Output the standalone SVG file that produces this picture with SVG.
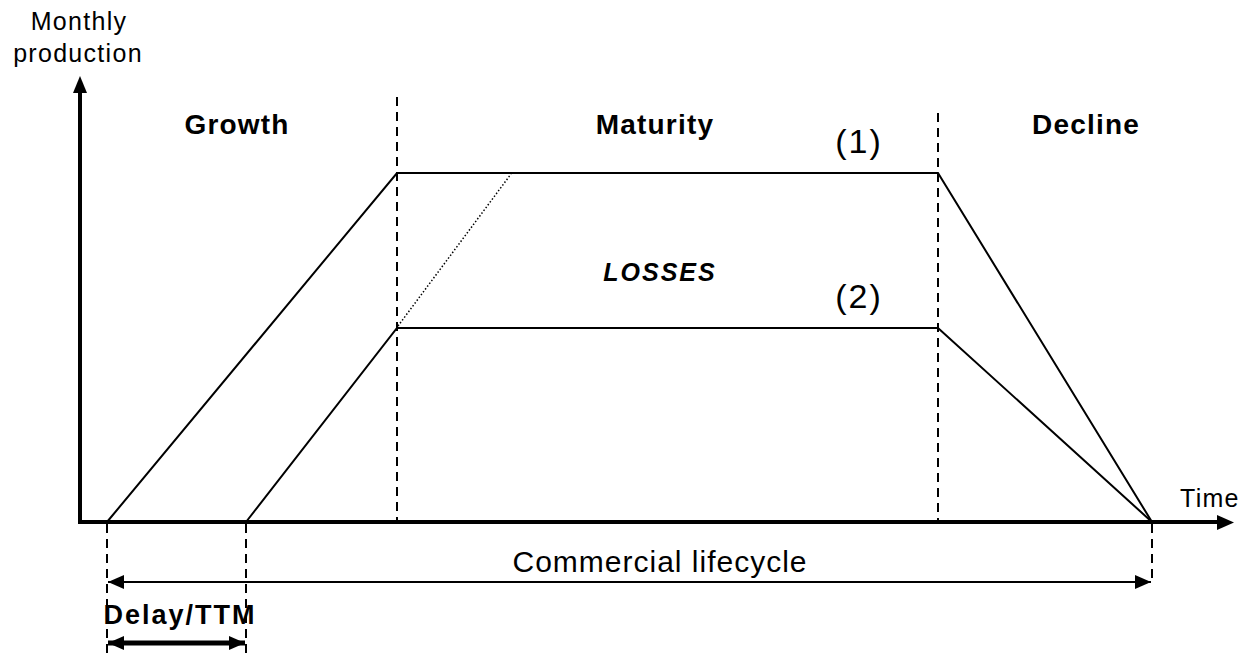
<svg xmlns="http://www.w3.org/2000/svg" width="1251" height="653" viewBox="0 0 1251 653">
<style>
text{font-family:"Liberation Sans",Arial,sans-serif;fill:#000}
.lbl{font-size:25px;letter-spacing:1.3px}
.phase{font-size:28px;font-weight:bold;letter-spacing:1.2px}
.num{font-size:34px;letter-spacing:2px}
.curve{fill:none;stroke:#000;stroke-width:2}
.dash{stroke:#000;stroke-width:2;stroke-dasharray:9,6;fill:none}
</style>
<defs>
<marker id="ahs" markerWidth="16" markerHeight="14" refX="16" refY="7" orient="auto-start-reverse" markerUnits="userSpaceOnUse"><path d="M0,0 L16,7 L0,14 Z" fill="#000"/></marker>
</defs>
<rect width="1251" height="653" fill="#fff"/>
<g id="connectors">
<line x1="80" y1="522" x2="80" y2="90" stroke="#000" stroke-width="4"/>
<path d="M73,93 L80,76 L87,93 Z" fill="#000"/>
<line x1="78" y1="522" x2="1220" y2="522" stroke="#000" stroke-width="4"/>
<path d="M1217,515 L1234,522.5 L1217,530 Z" fill="#000"/>
<line class="dash" x1="397" y1="97" x2="397" y2="522"/>
<line class="dash" x1="938" y1="113" x2="938" y2="522"/>
<line class="dash" x1="107" y1="524" x2="107" y2="653"/>
<line class="dash" x1="246" y1="524" x2="246" y2="653"/>
<line class="dash" x1="1152" y1="524" x2="1152" y2="584"/>
<polyline class="curve" points="107,522 397,173 938,173 1152,522"/>
<polyline class="curve" points="246,522 397,328 938,328 1152,522"/>
<line x1="398" y1="326" x2="511" y2="174" stroke="#000" stroke-width="1.5" stroke-dasharray="1.5,2"/>
<line x1="108" y1="582" x2="1151" y2="582" stroke="#000" stroke-width="2" marker-start="url(#ahs)" marker-end="url(#ahs)"/>
<line x1="108" y1="643" x2="245" y2="643" stroke="#000" stroke-width="5" marker-start="url(#ahs)" marker-end="url(#ahs)"/>
</g>
<g id="ylabel"><text class="lbl" x="79" y="30" text-anchor="middle">Monthly</text><text class="lbl" x="78" y="62" text-anchor="middle">production</text></g>
<g id="xlabel"><text class="lbl" x="1180" y="507">Time</text></g>
<g id="growth"><text class="phase" x="237" y="134" text-anchor="middle">Growth</text></g>
<g id="maturity"><text class="phase" x="655" y="134" text-anchor="middle">Maturity</text></g>
<g id="decline"><text class="phase" x="1086" y="134" text-anchor="middle">Decline</text></g>
<g id="label1"><text class="num" x="859" y="153" text-anchor="middle">(1)</text></g>
<g id="label2"><text class="num" x="859" y="308" text-anchor="middle">(2)</text></g>
<g id="losses"><text x="660" y="281" text-anchor="middle" font-size="25" font-weight="bold" font-style="italic" letter-spacing="2">LOSSES</text></g>
<g id="lifecycle"><text x="660" y="572" text-anchor="middle" font-size="30" letter-spacing="1">Commercial lifecycle</text></g>
<g id="delay"><text x="180" y="624" text-anchor="middle" font-size="27" font-weight="bold" letter-spacing="2">Delay/TTM</text></g>
</svg>
